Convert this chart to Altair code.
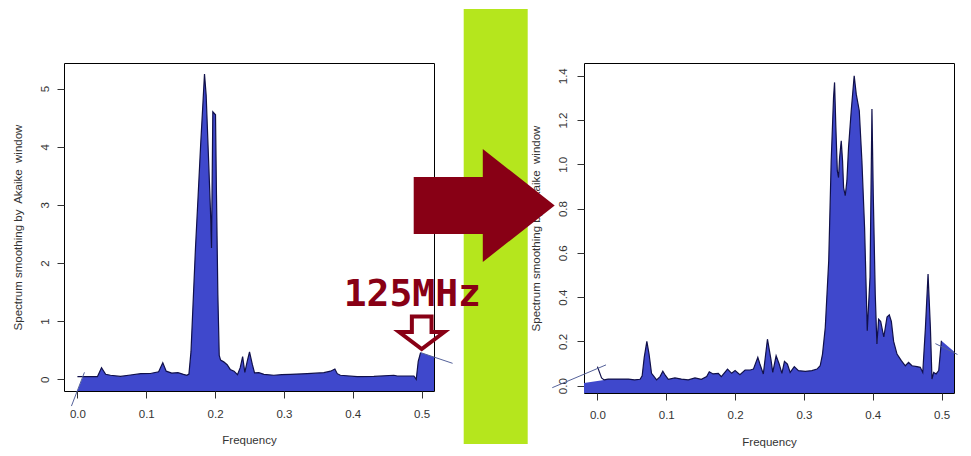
import altair as alt
import pandas as pd

# ---------------- data ----------------
# left panel: spectrum before (outline of the smoothed spectrum)
left_freq = [0.000, 0.008, 0.029, 0.035, 0.041, 0.048, 0.0625, 0.077, 0.092, 0.106,
             0.118, 0.124, 0.129, 0.137, 0.146, 0.154, 0.159, 0.162, 0.165, 0.1715,
             0.1754, 0.179, 0.1827, 0.1846, 0.187, 0.191, 0.1933, 0.1948, 0.1967, 0.2006,
             0.202, 0.204, 0.206, 0.208, 0.2125, 0.2175, 0.222, 0.2275, 0.2325, 0.2365,
             0.240, 0.2432, 0.2465, 0.250, 0.254, 0.2573, 0.2636, 0.271, 0.2853, 0.2966,
             0.3096, 0.3338, 0.358, 0.3677, 0.374, 0.3775, 0.382, 0.4065, 0.4307, 0.4597,
             0.4646, 0.4888, 0.4922, 0.4951, 0.4985]
left_spec = [0.045, 0.045, 0.045, 0.20, 0.086, 0.07, 0.05, 0.074, 0.097, 0.10,
             0.13, 0.286, 0.14, 0.108, 0.114, 0.086, 0.07, 0.09, 0.48, 2.26,
             3.17, 4.03, 4.83, 5.25, 4.89, 3.63, 2.89, 2.26, 4.60, 4.55,
             3.18, 1.46, 0.41, 0.33, 0.30, 0.25, 0.17, 0.14, 0.08, 0.20,
             0.39, 0.12, 0.30, 0.47, 0.26, 0.11, 0.114, 0.086, 0.07, 0.08,
             0.086, 0.097, 0.114, 0.14, 0.176, 0.097, 0.07, 0.045, 0.05, 0.07,
             0.057, 0.057, 0.0, 0.31, 0.46]
# closing edges of the filled polygon (thin slanted lines)
left_edge_x = [-0.0087, 0.0102, 0.4985, 0.545]
left_edge_y = [-0.46, 0.12, 0.46, 0.275]

# right panel: spectrum after
right_freq = [0.000, 0.006, 0.0097, 0.0155, 0.025, 0.045, 0.054, 0.062, 0.065, 0.068,
              0.0718, 0.075, 0.0786, 0.086, 0.091, 0.095, 0.099, 0.103, 0.1126, 0.122,
              0.132, 0.1417, 0.151, 0.1587, 0.1625, 0.168, 0.1756, 0.180, 0.189, 0.195,
              0.200, 0.207, 0.2145, 0.222, 0.2266, 0.233, 0.236, 0.241, 0.247, 0.252,
              0.2547, 0.2596, 0.264, 0.268, 0.2717, 0.276, 0.280, 0.286, 0.292, 0.302,
              0.3115, 0.319, 0.3236, 0.327, 0.331, 0.336, 0.3396, 0.343, 0.3445, 0.3464,
              0.3485, 0.3503, 0.3518, 0.3542, 0.3561, 0.3576, 0.360, 0.3624, 0.3648, 0.3687,
              0.373, 0.376, 0.3804, 0.3842, 0.3881, 0.392, 0.396, 0.3988, 0.4007, 0.4036,
              0.406, 0.4085, 0.4115, 0.416, 0.4207, 0.424, 0.427, 0.4303, 0.4352, 0.4415,
              0.4473, 0.452, 0.457, 0.4643, 0.469, 0.4726, 0.4765, 0.4803, 0.4837, 0.486,
              0.4885, 0.492, 0.4958, 0.4997]
right_spec = [0.086, 0.035, 0.026, 0.030, 0.030, 0.030, 0.026, 0.029, 0.045, 0.128,
              0.200, 0.143, 0.056, 0.026, 0.041, 0.065, 0.045, 0.029, 0.035, 0.030,
              0.026, 0.035, 0.029, 0.041, 0.063, 0.053, 0.056, 0.041, 0.075, 0.056,
              0.068, 0.050, 0.071, 0.071, 0.075, 0.128, 0.098, 0.053, 0.210, 0.120,
              0.060, 0.135, 0.098, 0.056, 0.110, 0.098, 0.060, 0.086, 0.068, 0.065,
              0.068, 0.075, 0.090, 0.143, 0.263, 0.564, 1.016, 1.302, 1.370, 1.166,
              0.970, 0.940, 1.030, 1.106, 1.016, 0.895, 0.858, 0.925, 1.076, 1.242,
              1.400, 1.317, 1.242, 1.016, 0.715, 0.248, 0.490, 1.250, 0.865, 0.413,
              0.188, 0.300, 0.290, 0.220, 0.310, 0.320, 0.290, 0.200, 0.143, 0.113,
              0.090, 0.105, 0.090, 0.086, 0.083, 0.060, 0.263, 0.504, 0.263, 0.030,
              0.060, 0.053, 0.068, 0.203]
right_edge_x = [-0.0656, 0.0125, 0.491, 0.523]
right_edge_y = [-0.009, 0.094, 0.190, 0.141]

left_yticks = [0, 1, 2, 3, 4, 5]
right_yticks = [0.0, 0.2, 0.4, 0.6, 0.8, 1.0, 1.2, 1.4]
xticks = [0.0, 0.1, 0.2, 0.3, 0.4, 0.5]
x_title = "Frequency"
y_title = "Spectrum smoothing by\u00a0 Akaike\u00a0 window"
note_text = "125MHz"

# ---------------- styles ----------------
FILL = "#3f48cc"
GREEN = "#b5e61d"
DARKRED = "#880015"
THIN = "#55629a"
FONT = "Liberation Sans"
TXT = "#333333"

BIG_ARROW = ("M -1 -0.404 L -0.02 -0.404 L -0.02 -0.801 L 1 0 "
             "L -0.02 0.801 L -0.02 0.404 L -1 0.404 Z")
HOLLOW_ARROW = ("M -0.41 -0.65 L 0.41 -0.65 L 0.41 0 L 0.94 0 L 0 0.71 "
                "L -0.94 0 L -0.41 0 Z")

one = pd.DataFrame({"k": [0]})


def panel(freq, spec, edge_x, edge_y, ydom, yvals, yfmt, w, h,
          ylabpad, xlabpad, ytitle_x, xtitle_y, before, after):
    spec_df = pd.DataFrame({"f": freq, "s": spec})
    fill_df = pd.DataFrame({"f": [edge_x[0]] + [f for f in freq if f > 0.007] + [edge_x[3]],
                            "s": [edge_y[0]] + [s for f, s in zip(freq, spec) if f > 0.007] + [edge_y[3]]})
    seg_df = pd.DataFrame({"f": edge_x, "s": edge_y, "seg": ["a", "a", "b", "b"]})

    xaxis = alt.Axis(values=xticks, format=".1f", title=x_title, domain=False, grid=False,
                     tickSize=7, tickColor=TXT, tickWidth=1,
                     labelFont=FONT, labelFontSize=11.5, labelColor=TXT,
                     labelBaseline="alphabetic", labelPadding=xlabpad,
                     labelFlush=False, labelOverlap=False,
                     titleFont=FONT, titleFontSize=11.5, titleFontWeight="normal",
                     titleColor=TXT, titleX=w / 2, titleY=xtitle_y,
                     titleAlign="center", titleBaseline="alphabetic", zindex=0)
    yaxis = alt.Axis(values=yvals, format=yfmt, title=y_title, domain=False, grid=False,
                     tickSize=7, tickColor=TXT, tickWidth=1,
                     labelFont=FONT, labelFontSize=11.5, labelColor=TXT,
                     labelAngle=270, labelAlign="center", labelBaseline="alphabetic",
                     labelPadding=ylabpad, labelFlush=False, labelOverlap=False,
                     titleFont=FONT, titleFontSize=11.5, titleFontWeight="normal",
                     titleColor=TXT, titleAngle=270, titleX=ytitle_x, titleY=h / 2,
                     titleAlign="center", titleBaseline="alphabetic", zindex=0)
    X = alt.X("f:Q", scale=alt.Scale(domain=[-0.0195, 0.518], nice=False, zero=False), axis=xaxis)
    Y = alt.Y("s:Q", scale=alt.Scale(domain=ydom, nice=False, zero=False), axis=yaxis, stack=None)

    area = alt.Chart(fill_df).mark_area(color=FILL, clip=True, opacity=1).encode(
        x=X, y=Y, y2=alt.value(h))
    line = alt.Chart(spec_df).mark_line(color="#10104a", strokeWidth=1.2, clip=True).encode(x=X, y=Y)
    seg = alt.Chart(seg_df).mark_line(color=THIN, strokeWidth=1).encode(x=X, y=Y, detail="seg:N")
    return alt.layer(*before, area, line, seg, *after).properties(width=w, height=h)


# decorations of the left panel (positions in pixels of the panel)
anchor = alt.Chart(one).mark_rect(color="white").encode(
    x=alt.value(-55.3), x2=alt.value(-54.5), y=alt.value(0), y2=alt.value(1))
gap = alt.Chart(one).mark_rect(color=GREEN).encode(
    x=alt.value(399.7), x2=alt.value(463.7), y=alt.value(-54), y2=alt.value(381))
note = alt.Chart(one).mark_text(
    text=note_text, font="DejaVu Sans Mono", fontWeight="bold",
    fontSize=38, color=DARKRED, align="left", baseline="alphabetic").encode(
    x=alt.value(279.7), y=alt.value(243))
hollow = alt.Chart(one).mark_point(
    shape=HOLLOW_ARROW, size=48 * 48, filled=False, stroke=DARKRED, strokeWidth=4,
    opacity=1, strokeJoin="miter").encode(x=alt.value(357.7), y=alt.value(269))

# big arrow between the panels (drawn with the right panel so it lies on top)
big = alt.Chart(one).mark_point(
    shape=BIG_ARROW, size=141 * 141, filled=True, fill=DARKRED, strokeWidth=0,
    opacity=1).encode(x=alt.value(-99.8), y=alt.value(142.5))

left = panel(left_freq, left_spec, left_edge_x, left_edge_y, [-0.201, 5.44],
             left_yticks, "d", 370, 328, 9, 19, -42.3, 52,
             [anchor, gap], [note, hollow])
right = panel(right_freq, right_spec, right_edge_x, right_edge_y, [-0.033, 1.4576],
              right_yticks, ".1f", 370, 330, 10.5, 18, -44.3, 52,
              [], [big])

chart = alt.hconcat(left, right, spacing=150, bounds="flush").properties(
    padding=0, background="white").configure_view(stroke="black", strokeWidth=1)

chart.save("out.html", embed_options={"renderer": "svg", "actions": False})
